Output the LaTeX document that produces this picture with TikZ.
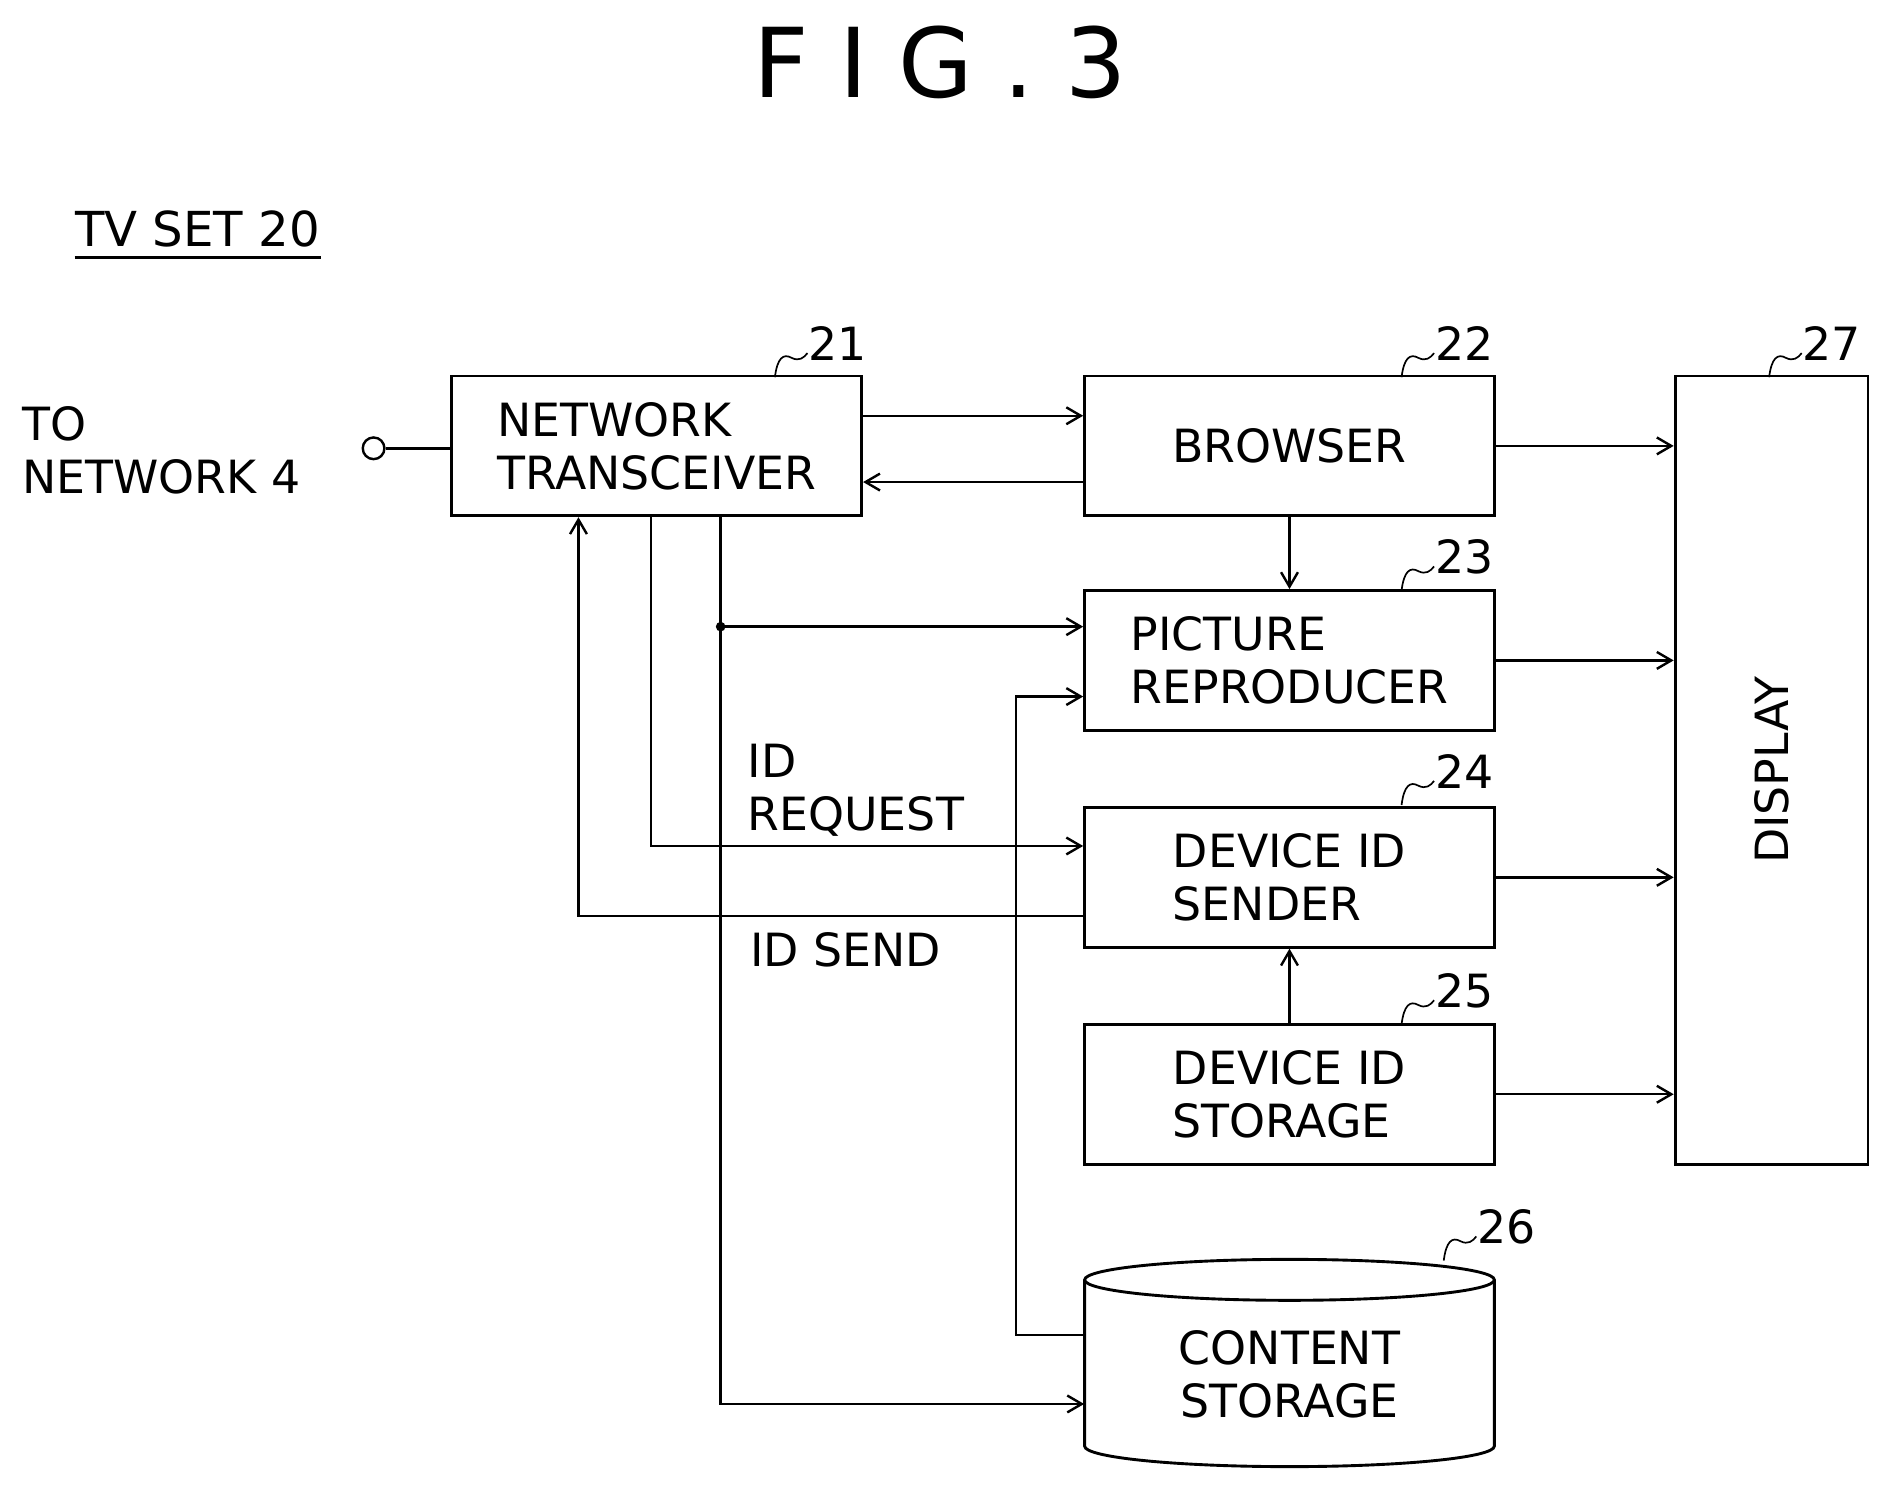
\documentclass[tikz,border=0pt]{standalone}
\usepackage{fontspec}
\setmainfont{DejaVu Sans}
\usetikzlibrary{arrows.meta,shapes.geometric}
\begin{document}
\begin{tikzpicture}[x=0.5pt,y=-0.5pt,
  box/.style={draw,line width=1.2pt,minimum width=170pt,minimum height=58pt,inner sep=0pt,align=left,font=\fontsize{19}{22}\selectfont},
  txt/.style={font=\fontsize{19}{22}\selectfont,align=left,inner sep=0pt},
  lab/.style={font=\fontsize{19}{22}\selectfont,inner sep=0pt},
  ar/.style={-{Straight Barb[length=6pt,width=7pt]},line width=1pt},
  ln/.style={line width=1pt}]
\useasboundingbox (0,0) rectangle (1560,1240);
\node[font=\fontsize{40}{44}\selectfont] (title) at (780,52) {F I G . 3};
\node[txt,anchor=west,font=\fontsize{20}{22}\selectfont] (tv) at (62,190) {TV SET 20};
\draw[ln] ([yshift=-4pt]tv.south west) -- ([yshift=-4pt]tv.south east);
\node[box] (b21) at (545,370) {NETWORK\\TRANSCEIVER};
\node[box] (b22) at (1070,370) {BROWSER};
\node[box] (b23) at (1070,548) {PICTURE\\REPRODUCER};
\node[box] (b24) at (1070,728) {DEVICE ID\\SENDER};
\node[box] (b25) at (1070,908) {DEVICE ID\\STORAGE};
\node[draw,line width=1.2pt,minimum width=80pt,minimum height=327pt] (b27) at (1470,639) {};
\node[txt,rotate=90] (disp) at (1470,639) {DISPLAY};
% cylinder 26
\node[minimum width=170pt,minimum height=78pt,inner sep=0pt,align=center,font=\fontsize{19}{22}\selectfont] (b26) at (1070,1140) {CONTENT\\STORAGE};
\draw[line width=1.2pt] (900,1062) -- (900,1200) arc[start angle=180,end angle=360,x radius=170,y radius=-17] -- (1240,1062);
\draw[line width=1.2pt] (1070,1062) ellipse[x radius=170,y radius=17];
% terminal
\node[draw,circle,line width=1pt,minimum size=9pt,inner sep=0pt] (term) at (310,372) {};
\draw[ln] (term) -- (b21.west|-term);
\node[txt,anchor=west] (tonet) at (18,374) {TO\\NETWORK 4};
% ref labels
\foreach \n/\x/\y in {21/695/285,22/1215/285,27/1520/285,23/1215/462,24/1215/640,25/1215/822,26/1250/1018}{
  \node[lab] (r\n) at (\x,\y) {\n};
  \draw[line width=0.7pt] (\x-52,\y+28) .. controls (\x-50,\y+12) and (\x-45,\y+8) .. (\x-38,\y+12) .. controls (\x-32,\y+15) and (\x-28,\y+12) .. (\x-25,\y+8);
}
% arrows
\draw[ar] (b21.east|-0,345) -- (b22.west|-0,345);
\draw[ar] (b22.west|-0,400) -- (b21.east|-0,400);
\draw[ar] (b22.east) -- (b27.west|-b22.east);
\draw[ar] (b23.east) -- (b27.west|-b23.east);
\draw[ar] (b24.east) -- (b27.west|-b24.east);
\draw[ar] (b25.east) -- (b27.west|-b25.east);
\draw[ar] (b22.south) -- (b23.north);
\draw[ar] (b25.north) -- (b24.south);
\coordinate (d) at (598,520);
\draw[ar] (b21.south-|598,0) -- (598,1165) -- (b26.west|-0,1165);
\fill (d) circle (4);
\draw[ar] (d) -- (b23.west|-d);
\draw[ar] (b21.south-|540,0) -- (540,702) -- (b24.west|-0,702);
\draw[ar] (b24.west|-0,760) -- (480,760) -- (b21.south-|480,0);
\draw[ar] (b26.west|-0,1108) -- (843,1108) -- (843,578) -- (b23.west|-0,578);
\node[txt,anchor=north west] (idr) at (620,617) {ID\\REQUEST};
\node[txt,anchor=west] (ids) at (622,788) {ID SEND};
\end{tikzpicture}
\end{document}
